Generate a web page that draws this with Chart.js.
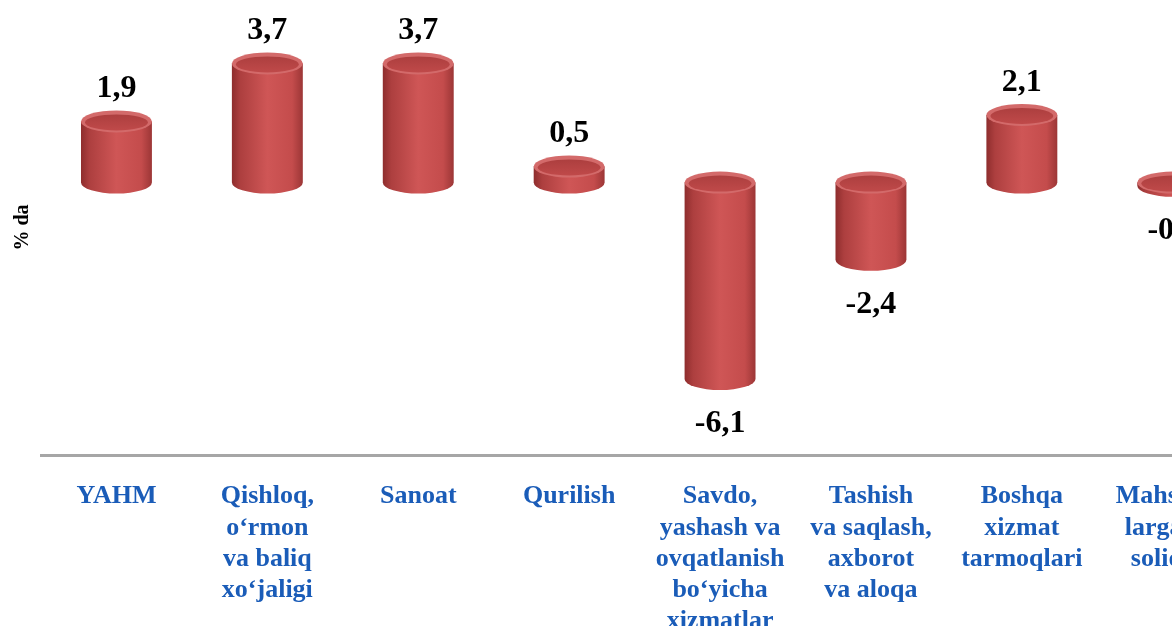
<!DOCTYPE html>
<html>
<head>
<meta charset="utf-8">
<script src="https://cdn.jsdelivr.net/npm/chart.js@4"></script>
<style>
  html, body { margin: 0; padding: 0; background: #fff; overflow: hidden; }
  #wrap { position: relative; width: 1256px; height: 660px; }
</style>
</head>
<body>
<div id="wrap"><canvas id="myChart"></canvas></div>
<script>
const categories = [
    ['YAHM'],
    ['Qishloq,', 'o‘rmon', 'va baliq', 'xo‘jaligi'],
    ['Sanoat'],
    ['Qurilish'],
    ['Savdo,', 'yashash va', 'ovqatlanish', 'bo‘yicha', 'xizmatlar'],
    ['Tashish', 'va saqlash,', 'axborot', 'va aloqa'],
    ['Boshqa', 'xizmat', 'tarmoqlari'],
    ['Mahsulot-', 'larga sof', 'soliqlar']
];
const values = [1.9, 3.7, 3.7, 0.5, -6.1, -2.4, 2.1, -0.1];
const axisTitle = '% da';

const RY = 11;

function drawCylinder(ctx, x, yA, yB, w) {
    const rx = w / 2;
    const top = Math.min(yA, yB), bot = Math.max(yA, yB);
    const left = x - rx;

    const g = ctx.createLinearGradient(left, 0, left + w, 0);
    g.addColorStop(0, '#8e2d2d');
    g.addColorStop(0.12, '#ad3f3f');
    g.addColorStop(0.5, '#cf5656');
    g.addColorStop(0.85, '#c44c4c');
    g.addColorStop(1, '#9c3636');

    ctx.save();
    ctx.beginPath();
    ctx.moveTo(left, top);
    ctx.lineTo(left, bot);
    ctx.ellipse(x, bot, rx, RY, 0, Math.PI, 0, true);
    ctx.lineTo(left + w, top);
    ctx.closePath();
    ctx.fillStyle = g;
    ctx.fill();

    // lid
    ctx.beginPath();
    ctx.ellipse(x, top, rx, RY, 0, 0, Math.PI * 2);
    ctx.fillStyle = '#d36a6a';
    ctx.fill();
    ctx.beginPath();
    ctx.ellipse(x, top + 1, rx - 4, RY - 3, 0, 0, Math.PI * 2);
    const lg = ctx.createLinearGradient(0, top - RY, 0, top + RY);
    lg.addColorStop(0, '#a83c3c');
    lg.addColorStop(1, '#c24b4b');
    ctx.fillStyle = lg;
    ctx.fill();
    ctx.restore();
}

const cylinders = {
    id: 'cylinders',
    afterDatasetsDraw(chart) {
        const ctx = chart.ctx;
        const meta = chart.getDatasetMeta(0);
        meta.data.forEach((bar, i) => {
            const p = bar.getProps(['x', 'y', 'base', 'width'], true);
            drawCylinder(ctx, p.x, p.y, p.base, p.width);

            const v = values[i];
            const txt = v.toFixed(1).replace('.', ',');
            ctx.save();
            ctx.font = 'bold 32px "Liberation Serif", "Times New Roman", serif';
            ctx.fillStyle = '#000';
            ctx.textAlign = 'center';
            ctx.textBaseline = 'alphabetic';
            if (v >= 0) {
                ctx.fillText(txt, p.x, p.y - RY - 13);
            } else {
                ctx.fillText(txt, p.x, p.y + RY + 42);
            }
            ctx.restore();
        });
    }
};

const ctx = document.getElementById('myChart').getContext('2d');
const myChart = new Chart(ctx, {
    type: 'bar',
    data: {
        labels: categories,
        datasets: [{
            data: values,
            backgroundColor: 'rgba(0,0,0,0)',
            borderWidth: 0,
            categoryPercentage: 1,
            barPercentage: 0.47
        }]
    },
    options: {
        responsive: true,
        maintainAspectRatio: false,
        animation: false,
        layout: { padding: { top: 0, right: 3, bottom: 0, left: 0 } },
        scales: {
            x: {
                afterFit(scale) { scale.height = 205; },
                grid: { display: false, drawTicks: false },
                border: { display: true, color: '#a6a6a6', width: 3 },
                ticks: {
                    autoSkip: false,
                    maxRotation: 0,
                    padding: 26,
                    color: '#1a5cb8',
                    font: { family: '"Liberation Serif", "Times New Roman", serif', size: 26, weight: 'bold', lineHeight: 1.2 }
                }
            },
            y: {
                min: -8.46,
                max: 5.67,
                afterFit(scale) { scale.width = 41; },
                grid: { display: false, drawTicks: false },
                border: { display: false },
                ticks: { display: false },
                title: {
                    display: true,
                    text: axisTitle,
                    color: '#000',
                    padding: { top: 11, bottom: 0 },
                    font: { family: '"Liberation Serif", "Times New Roman", serif', size: 20, weight: 'bold' }
                }
            }
        },
        plugins: {
            legend: { display: false },
            tooltip: { enabled: false }
        }
    },
    plugins: [cylinders]
});
</script>
</body>
</html>
